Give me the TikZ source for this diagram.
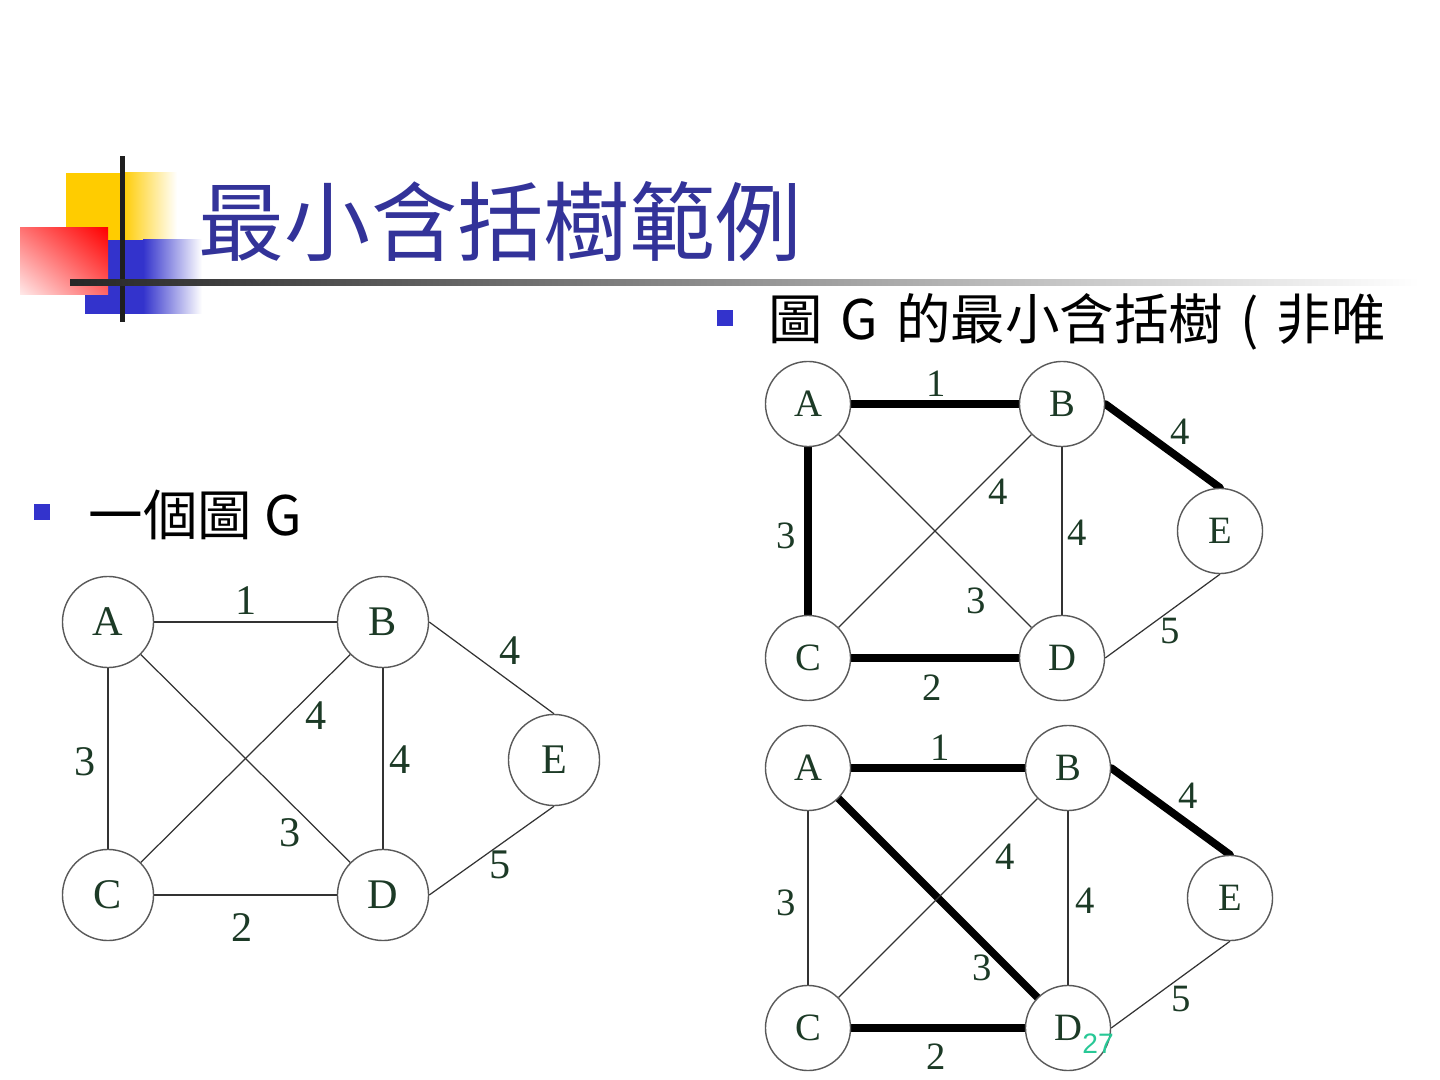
\documentclass[tikz,border=0pt]{standalone}
\usepackage{fontspec}
\setmainfont{Liberation Serif}
\newfontfamily\cjk{Noto Sans CJK TC}
\newfontfamily\arial{Liberation Sans}
\usepackage{tikz}
\usetikzlibrary{shadings}
\pgfdeclarelayer{edgelayer}
\pgfdeclarelayer{nodelayer}
\pgfsetlayers{edgelayer,nodelayer,main}
\definecolor{titleblue}{RGB}{51,51,153}
\definecolor{boxblue}{RGB}{51,51,204}
\definecolor{boxgold}{RGB}{255,204,0}
\definecolor{labelgreen}{RGB}{28,58,38}
\definecolor{pagegreen}{RGB}{40,200,150}
\tikzstyle{edge}=[draw=black!80, line width=0.35pt]
\tikzstyle{treeedge}=[draw=black, line width=2.2pt, line cap=round]
\tikzstyle{vertex}=[circle, fill=white, draw=black!65, line width=0.4pt, minimum size=0.85cm, inner sep=0pt, text=labelgreen, font=\fontsize{11}{11}\selectfont]
\tikzstyle{bigvertex}=[vertex, minimum size=0.91cm, font=\fontsize{12}{12}\selectfont]
\tikzstyle{weight}=[text=labelgreen, inner sep=0pt, font=\fontsize{11}{11}\selectfont]
\tikzstyle{bigweight}=[weight, font=\fontsize{12}{12}\selectfont]
\tikzstyle{bullet}=[fill=boxblue, minimum size=0.16cm, inner sep=0pt]
\tikzstyle{bullettext}=[anchor=west, inner sep=0pt, font=\cjk\fontsize{15.5}{15.5}\selectfont]

\begin{document}
\begin{tikzpicture}[x=0.01cm, y=-0.01cm]
\useasboundingbox (0,0) rectangle (1440,1080);
% title corner boxes
\fill [boxgold] (66,173) rectangle (122,262);
\shade [left color=boxgold, right color=white] (122,173) rectangle (177,262);
\fill [boxblue] (85,240) rectangle (143,314);
\shade [left color=boxblue, right color=white] (143,240) rectangle (202,314);
\shade [upper right=red, upper left=red!55, lower right=red!60, lower left=red!8] (20,228) rectangle (108,295);
\fill [black!88] (120,156) rectangle (125,322);
\shade [left color=black!85, middle color=black!60, right color=white] (70,280) rectangle (1420,286);
\node [anchor=west, inner sep=0pt, text=titleblue, font=\cjk\fontsize{24.5}{24.5}\selectfont] (title) at (198,222) {最小含括樹範例};
\node [style=bullet] (b1) at (42,512) {};
\node [style=bullettext] (t1) at (88,515) {一個圖 G};
\node [style=bullet] (b2) at (725,318) {};
\node [style=bullettext] (t2) at (768,322) {圖\hspace{0.1em} G \hspace{0.1em}的最小含括樹 \hspace{0.1em}( \hspace{0.1em}非唯};
% graph G
\begin{pgfonlayer}{nodelayer}
	\node [style=bigvertex] (1) at (108,622) {A};
	\node [style=bigvertex] (2) at (383,622) {B};
	\node [style=bigvertex] (3) at (108,895) {C};
	\node [style=bigvertex] (4) at (383,895) {D};
	\node [style=bigvertex] (5) at (554,760) {E};
	\node [style=bigweight] (w1) at (246,601) {1};
	\node [style=bigweight] (w2) at (510,651) {4};
	\node [style=bigweight] (w3) at (316,716) {4};
	\node [style=bigweight] (w4) at (85,762) {3};
	\node [style=bigweight] (w5) at (400,760) {4};
	\node [style=bigweight] (w6) at (290,833) {3};
	\node [style=bigweight] (w7) at (500,865) {5};
	\node [style=bigweight] (w8) at (242,928) {2};
\end{pgfonlayer}
\begin{pgfonlayer}{edgelayer}
	\draw [style=edge] (1) to (2);
	\draw [style=edge] (1) to (3);
	\draw [style=edge] (1) to (4);
	\draw [style=edge] (2) to (3);
	\draw [style=edge] (2) to (4);
	\draw [style=edge] (3) to (4);
	\draw [style=edge] (2.east) to (5.north);
	\draw [style=edge] (4.east) to (5.south);
\end{pgfonlayer}
% first tree
\begin{pgfonlayer}{nodelayer}
	\node [style=vertex] (6) at (808,404) {A};
	\node [style=vertex] (7) at (1062,404) {B};
	\node [style=vertex] (8) at (808,658) {C};
	\node [style=vertex] (9) at (1062,658) {D};
	\node [style=vertex] (10) at (1220,531) {E};
	\node [style=weight] (w9) at (936,384) {1};
	\node [style=weight] (w10) at (1180,432) {4};
	\node [style=weight] (w11) at (998,492) {4};
	\node [style=weight] (w12) at (786,536) {3};
	\node [style=weight] (w13) at (1077,533) {4};
	\node [style=weight] (w14) at (976,601) {3};
	\node [style=weight] (w15) at (1170,631) {5};
	\node [style=weight] (w16) at (932,688) {2};
\end{pgfonlayer}
\begin{pgfonlayer}{edgelayer}
	\draw [style=treeedge] (6) to (7);
	\draw [style=treeedge] (6) to (8);
	\draw [style=edge] (6) to (9);
	\draw [style=edge] (7) to (8);
	\draw [style=edge] (7) to (9);
	\draw [style=treeedge] (8) to (9);
	\draw [style=treeedge] (7.east) to (10.north);
	\draw [style=edge] (9.east) to (10.south);
\end{pgfonlayer}
% second tree
\begin{pgfonlayer}{nodelayer}
	\node [style=vertex] (11) at (808,768) {A};
	\node [style=vertex] (12) at (1068,768) {B};
	\node [style=vertex] (13) at (808,1028) {C};
	\node [style=vertex] (14) at (1068,1028) {D};
	\node [style=vertex] (15) at (1230,898) {E};
	\node [style=weight] (w17) at (940,748) {1};
	\node [style=weight] (w18) at (1188,796) {4};
	\node [style=weight] (w19) at (1005,857) {4};
	\node [style=weight] (w20) at (786,903) {3};
	\node [style=weight] (w21) at (1085,901) {4};
	\node [style=weight] (w22) at (982,968) {3};
	\node [style=weight] (w23) at (1181,999) {5};
	\node [style=weight] (w24) at (936,1057) {2};
\end{pgfonlayer}
\begin{pgfonlayer}{edgelayer}
	\draw [style=treeedge] (11) to (12);
	\draw [style=edge] (11) to (13);
	\draw [style=treeedge] (11) to (14);
	\draw [style=edge] (12) to (13);
	\draw [style=edge] (12) to (14);
	\draw [style=treeedge] (13) to (14);
	\draw [style=treeedge] (12.east) to (15.north);
	\draw [style=edge] (14.east) to (15.south);
\end{pgfonlayer}
\node [inner sep=0pt, text=pagegreen, font=\arial\fontsize{8}{8}\selectfont] (page) at (1098,1044) {27};
\end{tikzpicture}
\end{document}
